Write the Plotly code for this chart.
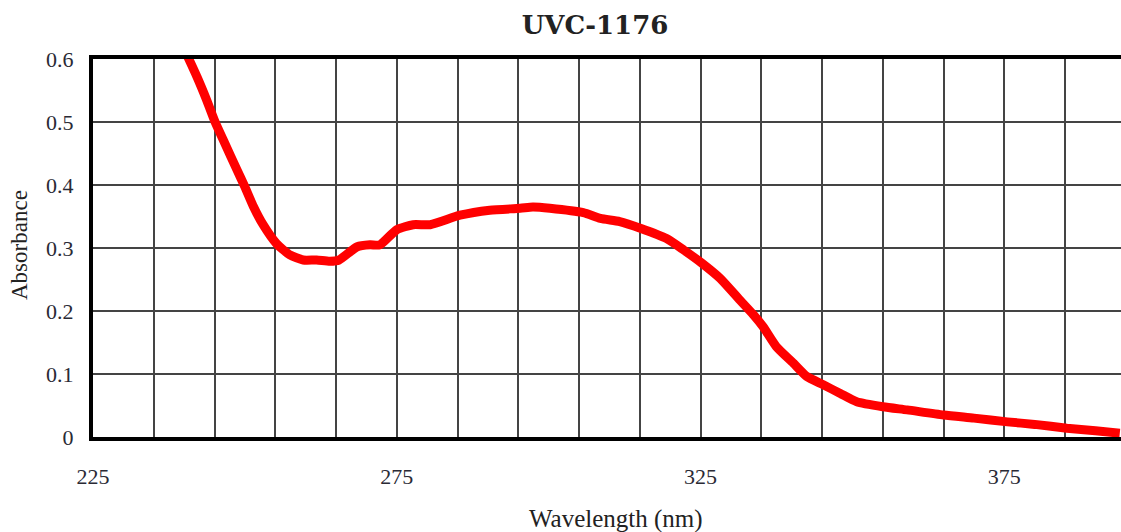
import plotly.graph_objects as go

wavelength = [240.1, 242.1, 243.7, 245.1, 246.7, 248.7, 250.0, 251.4, 253.0, 255.2, 257.4,
              259.6, 261.8, 264.0, 265.5, 268.5, 270.6, 272.2, 275.0, 277.7, 280.5, 285.4,
              290.3, 295.3, 297.4, 300.2, 305.7, 308.5, 311.7, 315.2, 319.4, 322.2, 325.2,
              328.2, 331.5, 333.7, 335.3, 337.5, 340.3, 342.5, 345.2, 348.0, 350.7, 355.0,
              359.0, 365.0, 370.0, 375.5, 380.0, 385.3, 390.0, 394.0]
absorbance = [0.614, 0.572, 0.535, 0.500, 0.466, 0.424, 0.397, 0.366, 0.337, 0.307, 0.289,
              0.281, 0.281, 0.279, 0.281, 0.302, 0.305, 0.305, 0.329, 0.337, 0.337, 0.352,
              0.360, 0.363, 0.365, 0.363, 0.356, 0.347, 0.342, 0.331, 0.315, 0.297, 0.276,
              0.252, 0.217, 0.194, 0.175, 0.143, 0.117, 0.096, 0.083, 0.069, 0.056, 0.048,
              0.043, 0.035, 0.030, 0.024, 0.020, 0.014, 0.010, 0.006]

x_ticks = [225, 275, 325, 375]
title_text = "UVC-1176"
x_title = "Wavelength (nm)"
y_title = "Absorbance"

fig = go.Figure()
fig.add_trace(go.Scatter(x=wavelength, y=absorbance, mode="lines",
                         line=dict(color="#ff0000", width=9, shape="spline", smoothing=0.6),
                         showlegend=False, hoverinfo="skip"))

tick_font = dict(family="Liberation Serif", size=22, color="#2a2a35")

fig.update_layout(
    width=1121, height=532,
    margin=dict(l=93, r=0, t=59, b=95),
    paper_bgcolor="white", plot_bgcolor="white",
    title=dict(text="<b>" + title_text + "</b>", x=595 / 1121, xanchor="center",
               y=1 - 25 / 532, yanchor="middle", yref="container",
               font=dict(family="DejaVu Serif", size=26, color="#222")),
    xaxis=dict(range=[225, 394.2], tickvals=x_ticks, ticktext=[str(v) for v in x_ticks],
               showgrid=True, gridcolor="#444", gridwidth=1.5,
               minor=dict(dtick=10, tick0=225, showgrid=True, gridcolor="#444", gridwidth=1.5),
               showline=True, linecolor="black", linewidth=4, mirror=True,
               ticks="", ticklabelstandoff=17, tickfont=tick_font, zeroline=False),
    yaxis=dict(range=[0, 0.6], tick0=0, dtick=0.1,
               showgrid=True, gridcolor="#444", gridwidth=1.5,
               showline=True, linecolor="black", linewidth=4, mirror=False,
               ticks="", ticklabelstandoff=11, tickfont=tick_font, zeroline=False),
    annotations=[
        dict(text=x_title, xref="paper", yref="paper", x=(616 - 93) / 1028, y=0,
             yshift=-82, xanchor="center", yanchor="middle", showarrow=False,
             font=dict(family="Liberation Serif", size=25, color="#222")),
        dict(text=y_title, xref="paper", yref="paper", x=0, xshift=-74,
             y=(437 - 245) / 378, xanchor="center", yanchor="middle", textangle=-90,
             showarrow=False, font=dict(family="Liberation Serif", size=23, color="#222")),
    ],
)

fig.write_html("out.html", config={"displayModeBar": False},
               post_script="document.body.style.margin='0';")
